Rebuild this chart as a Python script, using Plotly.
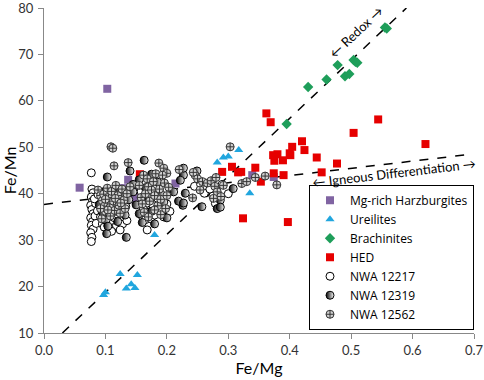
import plotly.graph_objects as go

# ---- data (Fe/Mg, Fe/Mn) ----
harz_x = [0.103, 0.058, 0.086, 0.13, 0.137, 0.14, 0.145, 0.148, 0.15, 0.153, 0.143, 0.155, 0.16, 0.214, 0.339, 0.374]
harz_y = [62.6, 41.3, 40.1, 41.2, 43.0, 41.0, 40.0, 42.0, 39.0, 41.5, 38.8, 40.2, 41.0, 42.2, 44.0, 43.6]

ure_x = [0.097, 0.1, 0.124, 0.134, 0.142, 0.148, 0.152, 0.18, 0.252, 0.282, 0.292, 0.30, 0.317, 0.335]
ure_y = [18.2, 18.8, 22.7, 19.6, 20.5, 19.7, 22.5, 31.1, 41.9, 46.7, 47.8, 48.0, 49.4, 40.1]

brach_x = [0.555, 0.558, 0.478, 0.504, 0.507, 0.51, 0.49, 0.497, 0.46, 0.43, 0.395]
brach_y = [75.8, 75.6, 67.7, 68.8, 68.4, 68.2, 65.3, 65.8, 64.6, 63.0, 55.0]

hed_x = [0.362, 0.369, 0.544, 0.504, 0.621, 0.42, 0.404, 0.424, 0.40, 0.373, 0.38, 0.401,
         0.375, 0.389, 0.444, 0.477, 0.344, 0.321, 0.374, 0.39, 0.452, 0.353, 0.324, 0.397,
         0.156, 0.306, 0.29, 0.316]
hed_y = [57.3, 55.4, 56.0, 53.1, 50.7, 51.3, 50.1, 49.4, 48.7, 48.3, 48.5, 48.3,
         47.1, 47.2, 47.8, 46.5, 45.6, 44.7, 44.4, 44.0, 44.6, 42.6, 34.7, 33.9,
         44.2, 45.8, 44.7, 44.6]

n12217_x = [0.077, 0.078, 0.080, 0.077, 0.079, 0.076, 0.078, 0.080, 0.076, 0.079, 0.077, 0.080,
            0.076, 0.078, 0.077, 0.083, 0.085, 0.084, 0.087, 0.082, 0.088,
            0.092, 0.095, 0.098, 0.10, 0.104, 0.106, 0.11, 0.112, 0.115, 0.118, 0.12, 0.123,
            0.126, 0.128, 0.13, 0.133, 0.135, 0.11, 0.124, 0.168,
            0.16, 0.162, 0.165, 0.168, 0.17, 0.174, 0.178, 0.18, 0.185, 0.19, 0.195, 0.2, 0.205,
            0.158, 0.163, 0.172, 0.183, 0.19, 0.198,
            0.261, 0.279, 0.275, 0.27, 0.245, 0.255, 0.29, 0.30]
n12217_y = [44.5, 41.0, 40.2, 39.3, 38.4, 37.5, 36.6, 35.7, 34.8, 34.0, 33.2, 32.4,
            31.6, 30.6, 29.7, 35.2, 33.6, 37.9, 36.3, 38.9, 39.8,
            35.0, 33.5, 32.8, 34.4, 33.2, 35.8, 33.6, 32.6, 34.8, 33.1, 35.6, 34.0,
            36.5, 33.5, 35.0, 37.3, 34.2, 31.9, 32.2, 32.2,
            35.2, 36.7, 34.4, 38.0, 36.0, 34.6, 37.2, 35.4, 39.0, 36.6, 35.0, 37.8, 36.2,
            40.5, 42.0, 43.1, 41.5, 43.0, 41.0,
            40.1, 37.9, 39.5, 41.0, 41.6, 42.0, 42.0, 40.0]

n12319_x = [0.103, 0.14, 0.163, 0.227, 0.249, 0.102, 0.134, 0.226, 0.23, 0.282, 0.308, 0.227,
            0.222, 0.211, 0.219, 0.227, 0.287, 0.287, 0.257,
            0.10, 0.105, 0.112, 0.118, 0.122, 0.128, 0.132, 0.12, 0.138, 0.145, 0.15, 0.155,
            0.16, 0.165, 0.17, 0.175, 0.18, 0.185, 0.19, 0.195, 0.2, 0.175, 0.155, 0.145,
            0.112, 0.095, 0.09, 0.101, 0.104]
n12319_y = [43.6, 44.9, 47.2, 44.0, 44.9, 31.4, 30.6, 37.5, 40.1, 36.8, 41.1, 45.5,
            42.9, 40.4, 38.4, 38.0, 38.6, 37.1, 37.2,
            40.6, 38.0, 39.3, 36.2, 41.0, 39.8, 35.4, 34.0, 38.7, 40.4, 37.6, 35.7,
            33.8, 41.3, 39.2, 36.2, 33.5, 42.5, 40.0, 38.2, 34.8, 44.2, 43.0, 42.0,
            37.2, 36.0, 37.6, 34.3, 33.0]

n12562_x = [0.109, 0.112, 0.114, 0.137, 0.22, 0.187, 0.195, 0.2, 0.246, 0.303, 0.242, 0.243,
            0.25, 0.258, 0.266, 0.254, 0.272, 0.278, 0.282, 0.288, 0.28, 0.292, 0.276,
            0.322, 0.33, 0.344, 0.36, 0.379,
            0.088, 0.092, 0.095, 0.098, 0.1, 0.097, 0.103, 0.105, 0.107, 0.108, 0.11, 0.113,
            0.115, 0.117, 0.12, 0.122, 0.124, 0.127, 0.13, 0.132, 0.092, 0.094, 0.1, 0.104,
            0.116, 0.125, 0.135, 0.14,
            0.155, 0.158, 0.16, 0.162, 0.165, 0.168, 0.17, 0.172, 0.175, 0.178, 0.18, 0.182,
            0.185, 0.188, 0.19, 0.193, 0.196, 0.2, 0.203, 0.163, 0.17, 0.18, 0.19, 0.198]
n12562_y = [50.1, 49.8, 46.0, 46.7, 45.2, 46.6, 45.5, 44.4, 44.0, 50.1, 39.1, 44.6,
            43.2, 42.6, 42.3, 40.8, 42.8, 41.6, 40.4, 39.4, 43.5, 41.8, 39.0,
            42.2, 42.6, 43.5, 43.8, 41.9,
            40.8, 39.6, 38.5, 37.3, 36.2, 39.9, 41.2, 39.2, 37.0, 35.2, 40.5, 38.4,
            36.4, 41.8, 39.6, 37.5, 35.8, 41.0, 38.6, 36.8, 36.8, 34.6, 38.8, 36.5,
            39.0, 38.0, 40.0, 41.5,
            41.8, 39.2, 37.8, 44.0, 40.0, 43.2, 41.5, 38.4, 40.8, 42.6, 39.6, 44.3,
            37.4, 41.0, 38.8, 44.0, 42.3, 39.6, 41.4, 36.0, 35.0, 36.5, 35.5, 36.8]

redox_x = [0.03, 0.59]
redox_y = [10, 80]
igneous_x = [0.0, 0.695]
igneous_y = [37.7, 48.5]

FONT = "Lato"

fig = go.Figure()

fig.add_trace(go.Scatter(x=redox_x, y=redox_y, mode="lines", showlegend=False, hoverinfo="skip",
                         line=dict(color="black", width=1.5, dash="dash")))
fig.add_trace(go.Scatter(x=igneous_x, y=igneous_y, mode="lines", showlegend=False, hoverinfo="skip",
                         line=dict(color="black", width=1.5, dash="dash")))

fig.add_trace(go.Scatter(x=harz_x, y=harz_y, mode="markers", name="Mg-rich Harzburgites",
                         marker=dict(symbol="square", size=8, color="#8064A2")))
fig.add_trace(go.Scatter(x=ure_x, y=ure_y, mode="markers", name="Ureilites",
                         marker=dict(symbol="triangle-up", size=8, color="#21A6DE")))
fig.add_trace(go.Scatter(x=brach_x, y=brach_y, mode="markers", name="Brachinites",
                         marker=dict(symbol="diamond", size=8, color="#1E9E5A")))
fig.add_trace(go.Scatter(x=hed_x, y=hed_y, mode="markers", name="HED",
                         marker=dict(symbol="square", size=8, color="#E60000")))
fig.add_trace(go.Scatter(x=n12217_x, y=n12217_y, mode="markers", name="NWA 12217",
                         marker=dict(symbol="circle", size=8, color="white",
                                     line=dict(color="black", width=1))))
fig.add_trace(go.Scatter(x=n12319_x, y=n12319_y, mode="markers", name="NWA 12319",
                         marker=dict(symbol="circle", size=8, color="black",
                                     gradient=dict(type="horizontal", color="white"),
                                     line=dict(color="black", width=1))))
fig.add_trace(go.Scatter(x=n12562_x, y=n12562_y, mode="markers", name="NWA 12562",
                         marker=dict(symbol="circle-cross", size=8, color="#d0d0d0",
                                     line=dict(color="#333333", width=1))))

fig.add_annotation(x=0.508, y=74.8, text="\u2190 Redox \u2192", showarrow=False,
                   textangle=-43.4, font=dict(family=FONT, size=13, color="black"))
fig.add_annotation(x=0.569, y=44.4, text="\u2190 Igneous Differentiation \u2192", showarrow=False,
                   textangle=-6.7, font=dict(family=FONT, size=13, color="black"))

fig.update_layout(
    width=484, height=380,
    margin=dict(l=44, r=10, t=8, b=47),
    paper_bgcolor="white", plot_bgcolor="white",
    font=dict(family=FONT, size=13, color="black"),
    showlegend=True,
    legend=dict(x=1, xanchor="right", y=0.01, yanchor="bottom",
                bgcolor="white", bordercolor="black", borderwidth=1,
                font=dict(family="Open Sans", size=12, color="black"),
                tracegroupgap=0),
)
fig.update_xaxes(range=[0, 0.7], dtick=0.1, tickformat=".1f", showgrid=False, zeroline=False,
                 showline=True, linecolor="#888888", linewidth=1, ticks="outside", ticklen=5,
                 tickcolor="#888888", title=dict(text="Fe/Mg", standoff=6), automargin=False,
                 ticklabeloverflow="allow", tickfont=dict(color="#333333"))
fig.update_yaxes(range=[10, 80], dtick=10, showgrid=False, zeroline=False,
                 showline=True, linecolor="#888888", linewidth=1, ticks="outside", ticklen=5,
                 tickcolor="#888888", title=dict(text="Fe/Mn", standoff=2), automargin=False,
                 ticklabeloverflow="allow", ticklabelstandoff=2, tickfont=dict(color="#333333"))

fig.write_html("out.html", config={"displayModeBar": False},
               post_script="document.body.style.margin='0px';")
